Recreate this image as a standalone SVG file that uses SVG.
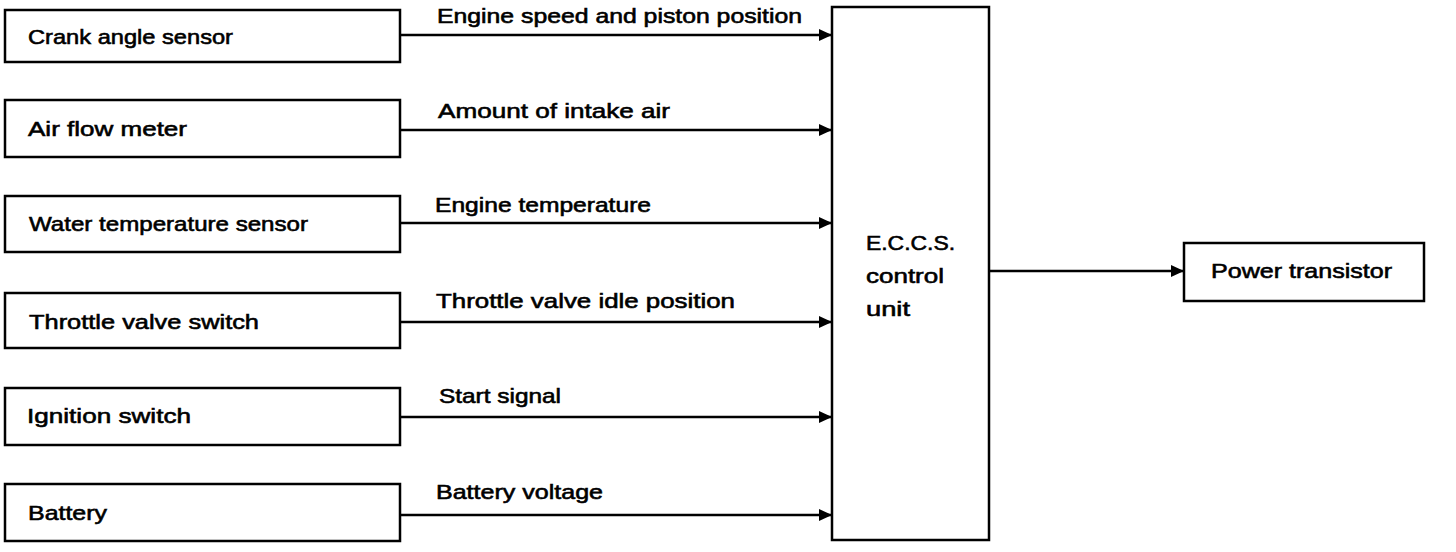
<svg xmlns="http://www.w3.org/2000/svg" width="1456" height="552" viewBox="0 0 1456 552">
<defs>
<style>
.box{fill:#fff;stroke:#000;stroke-width:2.5}
.t{font-family:"Liberation Sans",Arial,sans-serif;font-size:21px;fill:#000;stroke:#000;stroke-width:0.6}
.c{stroke:#000;stroke-width:2.5;fill:none;marker-end:url(#ah)}
</style>
<marker id="ah" markerUnits="userSpaceOnUse" markerWidth="13" markerHeight="12" refX="13" refY="6" orient="auto">
<path d="M0,0 L13,6 L0,12 Z" fill="#000"/>
</marker>
</defs>
<rect width="1456" height="552" fill="#fff"/>
<g id="connectors">
<line class="c" x1="400" y1="35" x2="832" y2="35"/>
<line class="c" x1="400" y1="130" x2="832" y2="130"/>
<line class="c" x1="400" y1="223" x2="832" y2="223"/>
<line class="c" x1="400" y1="322" x2="832" y2="322"/>
<line class="c" x1="400" y1="417" x2="832" y2="417"/>
<line class="c" x1="400" y1="515" x2="832" y2="515"/>
<line class="c" x1="989" y1="271" x2="1184" y2="271"/>
<text class="t" x="437" y="23" textLength="365" lengthAdjust="spacingAndGlyphs">Engine speed and piston position</text>
<text class="t" x="438" y="118" textLength="232" lengthAdjust="spacingAndGlyphs">Amount of intake air</text>
<text class="t" x="435" y="212" textLength="216" lengthAdjust="spacingAndGlyphs">Engine temperature</text>
<text class="t" x="436" y="308" textLength="299" lengthAdjust="spacingAndGlyphs">Throttle valve idle position</text>
<text class="t" x="439" y="403" textLength="122" lengthAdjust="spacingAndGlyphs">Start signal</text>
<text class="t" x="436" y="499" textLength="167" lengthAdjust="spacingAndGlyphs">Battery voltage</text>
</g>
<g id="crank">
<rect class="box" x="5" y="10" width="395" height="52"/>
<text class="t" x="28" y="44" textLength="205" lengthAdjust="spacingAndGlyphs">Crank angle sensor</text>
</g>
<g id="airflow">
<rect class="box" x="5" y="100" width="395" height="57"/>
<text class="t" x="28" y="136" textLength="159" lengthAdjust="spacingAndGlyphs">Air flow meter</text>
</g>
<g id="water">
<rect class="box" x="5" y="196" width="395" height="56"/>
<text class="t" x="29" y="231" textLength="279" lengthAdjust="spacingAndGlyphs">Water temperature sensor</text>
</g>
<g id="throttle">
<rect class="box" x="5" y="293" width="395" height="55"/>
<text class="t" x="29" y="329" textLength="230" lengthAdjust="spacingAndGlyphs">Throttle valve switch</text>
</g>
<g id="ignition">
<rect class="box" x="5" y="388" width="395" height="57"/>
<text class="t" x="27" y="423" textLength="164" lengthAdjust="spacingAndGlyphs">Ignition switch</text>
</g>
<g id="battery">
<rect class="box" x="5" y="484" width="395" height="57"/>
<text class="t" x="28" y="520" textLength="79" lengthAdjust="spacingAndGlyphs">Battery</text>
</g>
<g id="eccs">
<rect class="box" x="832" y="7" width="157" height="533"/>
<text class="t" x="866" y="250" textLength="89" lengthAdjust="spacingAndGlyphs">E.C.C.S.</text>
<text class="t" x="866" y="283" textLength="78" lengthAdjust="spacingAndGlyphs">control</text>
<text class="t" x="866" y="316" textLength="44" lengthAdjust="spacingAndGlyphs">unit</text>
</g>
<g id="power">
<rect class="box" x="1184" y="243" width="240" height="58"/>
<text class="t" x="1211" y="278" textLength="181" lengthAdjust="spacingAndGlyphs">Power transistor</text>
</g>
</svg>
